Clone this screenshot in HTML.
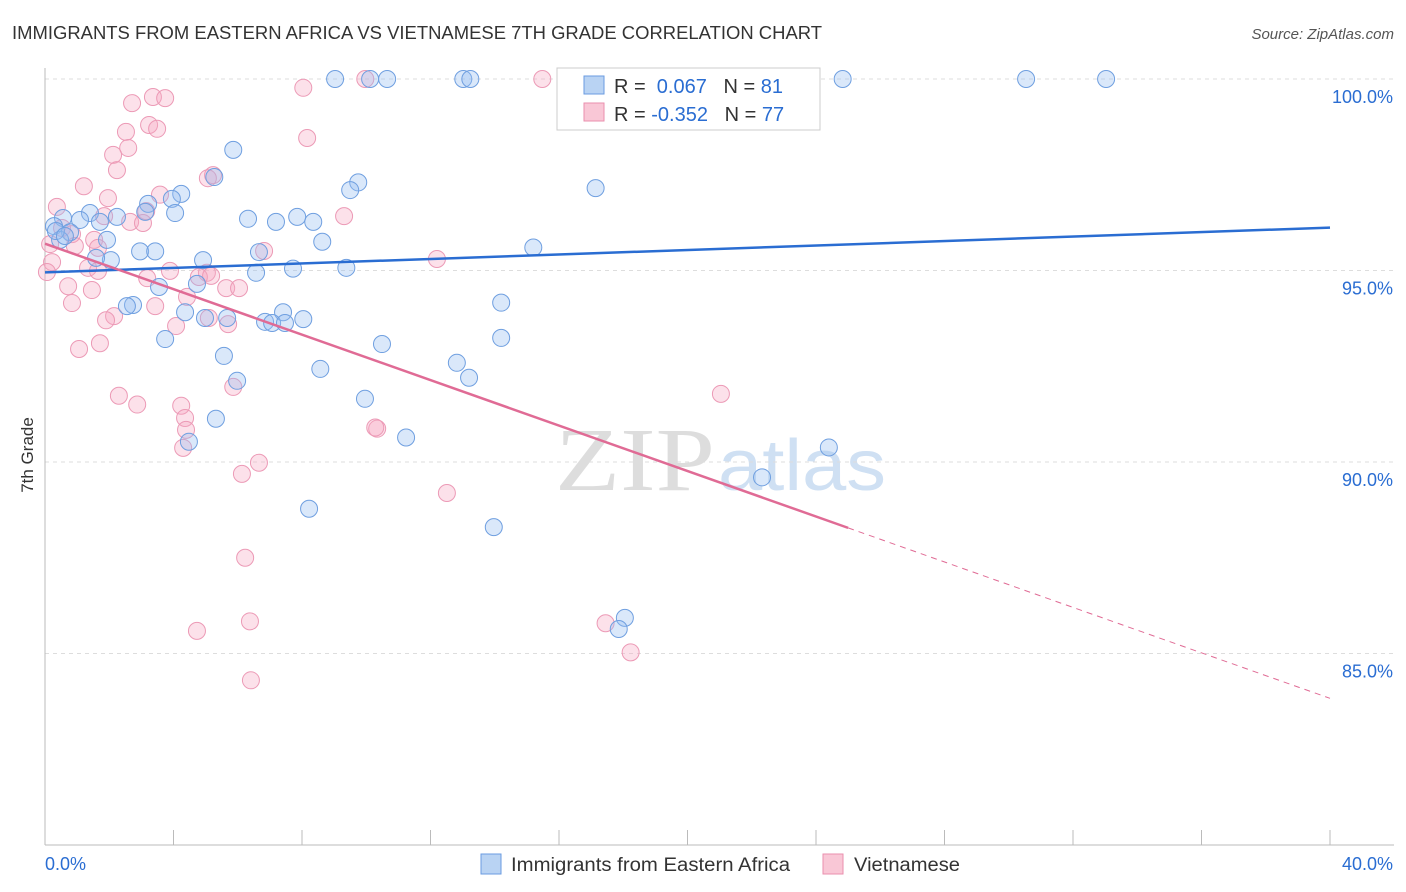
<!DOCTYPE html>
<html><head><meta charset="utf-8"><style>
body{margin:0;background:#fff;font-family:"Liberation Sans",sans-serif}
svg{display:block}
</style></head><body>
<svg id="c" width="1406" height="892">
<text x="12" y="39" font-size="18" fill="#333" textLength="810" lengthAdjust="spacingAndGlyphs">IMMIGRANTS FROM EASTERN AFRICA VS VIETNAMESE 7TH GRADE CORRELATION CHART</text>
<text x="1394" y="39" font-size="15" fill="#555" font-style="italic" text-anchor="end">Source: ZipAtlas.com</text>
<text x="33" y="455" font-size="17" fill="#333" transform="rotate(-90 33 455)" text-anchor="middle">7th Grade</text>
<text x="555" y="490" font-size="90" fill="#ddd" font-family="Liberation Serif,serif" textLength="160" lengthAdjust="spacingAndGlyphs">ZIP</text>
<text x="718" y="490" font-size="72" fill="#cfe0f3" textLength="168" lengthAdjust="spacingAndGlyphs">atlas</text>
<g id="grid"></g><g id="pts"></g><g id="lines"></g>
<g>
<rect x="557" y="68" width="263" height="62" fill="#fff" stroke="#ccc"/>
<rect x="584" y="76" width="20" height="18" fill="#b9d3f3" stroke="#6a9be0"/>
<rect x="584" y="103" width="20" height="18" fill="#f9c7d6" stroke="#ea8fae"/>
<text x="614" y="93" font-size="20" fill="#333">R = <tspan fill="#2a6dd2">&#160;0.067</tspan>&#160;&#160;&#160;N = <tspan fill="#2a6dd2">81</tspan></text>
<text x="614" y="121" font-size="20" fill="#333">R = <tspan fill="#2a6dd2">-0.352</tspan>&#160;&#160;&#160;N = <tspan fill="#2a6dd2">77</tspan></text>
</g>
<g>
<rect x="481" y="854" width="20" height="20" fill="#b9d3f3" stroke="#6a9be0"/>
<text x="511" y="871" font-size="19" fill="#333" textLength="279" lengthAdjust="spacingAndGlyphs">Immigrants from Eastern Africa</text>
<rect x="823" y="854" width="20" height="20" fill="#f9c7d6" stroke="#ea8fae"/>
<text x="854" y="871" font-size="19" fill="#333" textLength="106" lengthAdjust="spacingAndGlyphs">Vietnamese</text>
</g>
</svg>
<script>
const xTicks=[0,40];
const yTicks=[100,95,90,85];
const blueX=[9.03,10.12,10.65,13.02,13.24,17.2,23.3,24.83,30.54,33.03,5.86,17.14,9.75,9.5,5.27,4.24,3.95,3.21,4.05,3.12,2.24,1.4,0.56,1.09,1.71,6.32,7.19,7.85,8.35,0.28,0.78,1.93,0.47,8.63,15.2,2.96,3.43,6.66,4.92,2.05,1.59,7.72,9.38,6.57,4.73,3.55,14.2,2.74,2.55,4.36,7.41,8.04,4.98,5.67,6.85,7.07,7.47,3.74,14.2,10.49,5.57,12.82,8.57,13.2,5.98,9.96,5.32,4.48,11.24,24.4,22.32,8.22,13.97,18.05,17.86,0.34,0.62];
const blueY=[100,100,100,100,100,100,100,100,100,100,98.15,97.15,97.3,97.1,97.44,97.0,96.87,96.74,96.5,96.53,96.4,96.5,96.37,96.32,96.27,96.35,96.27,96.4,96.27,96.16,96.0,95.8,95.8,95.75,95.6,95.5,95.5,95.48,95.27,95.27,95.33,95.05,95.07,94.94,94.65,94.57,94.16,94.1,94.07,93.91,93.91,93.73,93.76,93.76,93.66,93.63,93.63,93.21,93.24,93.08,92.77,92.59,92.43,92.2,92.12,91.65,91.13,90.53,90.64,90.38,89.6,88.78,88.3,85.93,85.64,96.03,95.9];
const pinkX=[8.04,9.97,15.48,3.36,3.74,2.71,3.24,3.49,2.52,8.16,2.59,2.12,2.24,5.23,5.07,1.21,3.58,1.96,0.37,3.15,1.84,9.31,2.65,3.05,0.53,0.84,1.53,0.16,0.93,1.65,6.82,0.22,0.06,1.34,1.65,3.89,12.2,5.04,4.79,5.17,3.18,0.72,1.46,5.64,6.04,4.42,0.84,3.43,2.15,1.9,5.1,5.7,4.08,1.71,1.06,5.86,21.04,2.3,2.87,4.24,4.36,4.39,10.34,10.28,4.3,6.66,6.13,12.51,6.23,6.38,17.45,4.73,18.23,6.41];
const pinkY=[99.77,100,100,99.53,99.5,99.37,98.8,98.7,98.62,98.46,98.2,98.02,97.62,97.49,97.41,97.2,96.98,96.89,96.66,96.55,96.42,96.42,96.27,96.24,96.11,95.95,95.8,95.69,95.64,95.59,95.51,95.22,94.96,95.07,94.99,94.99,95.3,94.94,94.83,94.86,94.8,94.59,94.49,94.54,94.54,94.31,94.15,94.07,93.81,93.7,93.76,93.6,93.55,93.1,92.95,91.96,91.78,91.73,91.5,91.47,91.15,90.84,90.87,90.9,90.37,89.98,89.69,89.19,87.5,85.84,85.79,85.59,85.03,84.3];
const X=v=>45+v/40*1285, Y=v=>79+(100-v)*38.3;
const ns='http://www.w3.org/2000/svg';
function mk(t,a,p){const e=document.createElementNS(ns,t);for(const k in a)e.setAttribute(k,a[k]);document.getElementById(p).appendChild(e);return e;}
for(const t of yTicks){
 const l=mk('line',{x1:45,x2:1394,y1:Y(t),y2:Y(t),stroke:'#ddd','stroke-dasharray':'4,4'},'grid');
 
 
 const tx=mk('text',{x:1393,y:Y(t)+24,'font-size':18,fill:'#2a6dd2','text-anchor':'end'},'grid');tx.textContent=t.toFixed(1)+'%';
 
 
}
mk('line',{x1:45,x2:45,y1:68,y2:845,stroke:'#bbb'},'grid');
mk('line',{x1:45,x2:1394,y1:845,y2:845,stroke:'#bbb'},'grid');
for(let i=1;i<=10;i++)mk('line',{x1:45+i*128.5,x2:45+i*128.5,y1:830,y2:845,stroke:'#bbb'},'grid');
xTicks.forEach((t,i)=>{const tx=mk('text',{x:i?1393:45,y:870,'font-size':18,fill:'#2a6dd2','text-anchor':i?'end':'start'},'grid');tx.textContent=t.toFixed(1)+'%';
 
 });
pinkX.forEach((v,i)=>{const e=mk('circle',{cx:X(v),cy:Y(pinkY[i]),r:8.5,fill:'rgba(246,170,195,0.35)',stroke:'#ec9ab6','stroke-width':1},'pts');
 
 });
blueX.forEach((v,i)=>{const e=mk('circle',{cx:X(v),cy:Y(blueY[i]),r:8.5,fill:'rgba(150,190,240,0.35)',stroke:'#6f9fe0','stroke-width':1},'pts');
 
 });
let b=mk('line',{x1:X(0),y1:Y(94.95),x2:X(40),y2:Y(96.12),stroke:'#2a6dd2','stroke-width':2.5},'lines');


let p=mk('line',{x1:X(0),y1:Y(95.7),x2:X(25),y2:Y(88.28),stroke:'#e06b95','stroke-width':2.5},'lines');


let pd=mk('line',{x1:X(25),y1:Y(88.28),x2:X(40),y2:Y(83.83),stroke:'#e06b95','stroke-width':1,'stroke-dasharray':'6,5'},'lines');


</script>
</body></html>
